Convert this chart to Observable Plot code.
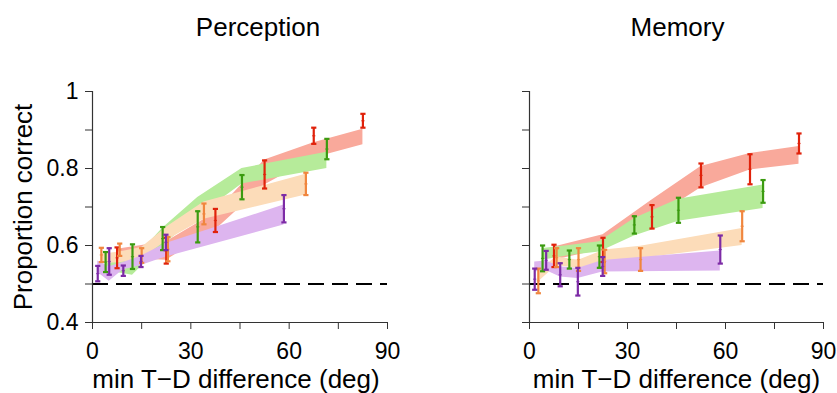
<!DOCTYPE html>
<html>
<head>
<meta charset="utf-8">
<script src="https://cdn.jsdelivr.net/npm/d3@7"></script>
<script src="https://cdn.jsdelivr.net/npm/@observablehq/plot@0.6"></script>
<style>
  html, body { margin: 0; padding: 0; background: #fff; }
  #chart { display: flex; width: 837px; height: 393px; }
  #chart svg { display: block; }
</style>
</head>
<body>
<div id="chart"></div>
<script>
// ---- bin positions (deg) for each condition (shared by both panels)
const xRed    = [7.5, 22.5, 37.5, 52.5, 67.5, 82.5];
const xGreen  = [4.0, 12.2, 21.4, 32.1, 45.6, 71.5];
const xOrange = [2.7, 8.3, 15.0, 23.0, 34.0, 65.1];
const xPurple = [1.6, 5.1, 9.4, 14.8, 22.4, 58.4];

// ---- Perception: data error bars [lo, hi]
const percRedErr    = [[0.541,0.595],[0.553,0.620],[0.635,0.695],[0.748,0.821],[0.864,0.906],[0.906,0.942]];
const percGreenErr  = [[0.531,0.583],[0.539,0.603],[0.588,0.648],[0.608,0.689],[0.720,0.783],[0.824,0.877]];
const percOrangeErr = [[0.557,0.594],[0.573,0.605],[0.555,0.593],[0.559,0.622],[0.655,0.709],[0.731,0.789]];
const percPurpleErr = [[0.507,0.547],[0.524,0.593],[0.521,0.548],[0.544,0.573],[0.588,0.628],[0.660,0.731]];
// ---- Perception: model bands [lo, hi]
const percRedBand    = [[0.568,0.590],[0.562,0.610],[0.640,0.685],[0.757,0.822],[0.827,0.867],[0.862,0.902]];
const percGreenBand  = [[0.535,0.570],[0.523,0.560],[0.600,0.645],[0.675,0.725],[0.760,0.800],[0.800,0.842]];
const percOrangeBand = [[0.553,0.577],[0.555,0.583],[0.565,0.595],[0.615,0.650],[0.668,0.713],[0.731,0.785]];
const percPurpleBand = [[0.530,0.560],[0.507,0.545],[0.537,0.556],[0.548,0.572],[0.570,0.605],[0.653,0.705]];

// ---- Memory: data error bars [lo, hi]
const memRedErr    = [[0.544,0.602],[0.557,0.620],[0.644,0.705],[0.751,0.813],[0.759,0.837],[0.839,0.891]];
const memGreenErr  = [[0.533,0.600],[0.540,0.587],[0.542,0.600],[0.631,0.676],[0.659,0.724],[0.711,0.770]];
const memOrangeErr = [[0.476,0.540],[0.544,0.593],[0.534,0.593],[0.528,0.589],[0.534,0.593],[0.611,0.689]];
const memPurpleErr = [[0.485,0.540],[0.537,0.586],[0.494,0.554],[0.470,0.542],[0.521,0.570],[0.553,0.626]];
// ---- Memory: model bands [lo, hi]
const memRedBand    = [[0.562,0.596],[0.590,0.628],[0.668,0.718],[0.750,0.805],[0.796,0.839],[0.811,0.857]];
const memGreenBand  = [[0.562,0.592],[0.574,0.600],[0.583,0.610],[0.625,0.670],[0.663,0.720],[0.696,0.757]];
const memOrangeBand = [[0.505,0.535],[0.548,0.570],[0.540,0.562],[0.557,0.588],[0.566,0.598],[0.600,0.644]];
const memPurpleBand = [[0.531,0.557],[0.535,0.560],[0.518,0.545],[0.514,0.540],[0.531,0.561],[0.534,0.586]];

// ---- axes
const xTicks = [0, 15, 30, 45, 60, 75, 90];
const xTickLabels = ["0", "", "30", "", "60", "", "90"];
const yTicks = [0.4, 0.5, 0.6, 0.7, 0.8, 0.9, 1.0];
const yTickLabels = ["0.4", "", "0.6", "", "0.8", "", "1"];
const chance = [0.5];
const titles = ["Perception", "Memory"];
const xLabel = "min T\u2212D difference (deg)";
const yLabel = "Proportion correct";

const bandColors = ["#f9a99b", "#b6eb9a", "#fcdcb9", "#ddb5ef"];
const barColors  = ["#e0220b", "#3b9b10", "#f0863e", "#7d2ba6"];

const FONT = "'Liberation Sans', Arial, Helvetica, sans-serif";

function rows(xs, err, band) {
  return xs.map((x, i) => ({
    x, lo: err[i][0], hi: err[i][1], mid: (err[i][0] + err[i][1]) / 2,
    blo: band[i][0], bhi: band[i][1]
  }));
}

const hbar = {
  draw(context, size) {
    const r = Math.sqrt(size / Math.PI);
    context.moveTo(-r, 0);
    context.lineTo(r, 0);
  }
};

function panel(opts) {
  const series = opts.series; // order: red, green, orange, purple
  const xTickMap = new Map(xTicks.map((v, i) => [v, xTickLabels[i]]));
  const yTickMap = new Map(yTicks.map((v, i) => [v, yTickLabels[i]]));
  const marks = [];
  series.forEach((r, k) => {
    marks.push(Plot.areaY(r, {x: "x", y1: "blo", y2: "bhi", fill: bandColors[k], curve: "linear"}));
  });
  marks.push(Plot.ruleY(chance, {stroke: "#000", strokeWidth: 2, strokeDasharray: "16,8"}));
  series.forEach((r, k) => {
    marks.push(Plot.ruleX(r, {x: "x", y1: "lo", y2: "hi", stroke: barColors[k], strokeWidth: 2.2}));
    marks.push(Plot.dot(r, {x: "x", y: "lo", symbol: hbar, r: 2.6, stroke: barColors[k], strokeWidth: 2.2, fill: "none"}));
    marks.push(Plot.dot(r, {x: "x", y: "hi", symbol: hbar, r: 2.6, stroke: barColors[k], strokeWidth: 2.2, fill: "none"}));
    marks.push(Plot.dot(r, {x: "x", y: "mid", symbol: hbar, r: 1.6, stroke: barColors[k], strokeWidth: 1.2, fill: "none", strokeOpacity: 0.8}));
  });
  marks.push(Plot.ruleX([0], {stroke: "#333", strokeWidth: 1.2}));
  marks.push(Plot.ruleY([0.4], {stroke: "#333", strokeWidth: 1.2}));
  marks.push(Plot.axisX({ticks: xTicks, tickSize: 7, tickPadding: 13, fontSize: 23, label: null,
    stroke: "#333", tickFormat: d => xTickMap.get(d)}));
  marks.push(Plot.axisY({ticks: yTicks, tickSize: 7, tickPadding: 7, fontSize: 23, label: null,
    stroke: "#333", tickFormat: d => opts.yLabels ? yTickMap.get(d) : ""}));
  marks.push(Plot.text([opts.title], {frameAnchor: "top", lineAnchor: "middle", textAnchor: "middle", dy: -64, dx: opts.titleDx, fontSize: 26, fill: "#000"}));
  marks.push(Plot.text([xLabel], {frameAnchor: "bottom", lineAnchor: "middle", textAnchor: "middle", dy: 57, dx: opts.xLabelDx, fontSize: 26, fill: "#000"}));
  if (opts.yLabels) {
    marks.push(Plot.text([yLabel], {frameAnchor: "left", lineAnchor: "middle", textAnchor: "middle", rotate: -90, dx: -69, fontSize: 26, fill: "#000"}));
  }
  return Plot.plot({
    width: opts.width, height: 393,
    marginLeft: opts.marginLeft, marginRight: opts.marginRight, marginTop: 91, marginBottom: 71,
    x: {domain: [0, 90]},
    y: {domain: [0.4, 1]},
    style: {fontFamily: FONT, color: "#000", background: "#fff", overflow: "visible"},
    marks
  });
}

const chart = document.getElementById("chart");
chart.append(panel({
  series: [rows(xRed, percRedErr, percRedBand), rows(xGreen, percGreenErr, percGreenBand),
           rows(xOrange, percOrangeErr, percOrangeBand), rows(xPurple, percPurpleErr, percPurpleBand)],
  title: titles[0], width: 418, marginLeft: 92, marginRight: 31, yLabels: true, titleDx: 18, xLabelDx: -4
}));
chart.append(panel({
  series: [rows(xRed, memRedErr, memRedBand), rows(xGreen, memGreenErr, memGreenBand),
           rows(xOrange, memOrangeErr, memOrangeBand), rows(xPurple, memPurpleErr, memPurpleBand)],
  title: titles[1], width: 419, marginLeft: 111, marginRight: 14, yLabels: false, titleDx: 1, xLabelDx: 0
}));
</script>
</body>
</html>
